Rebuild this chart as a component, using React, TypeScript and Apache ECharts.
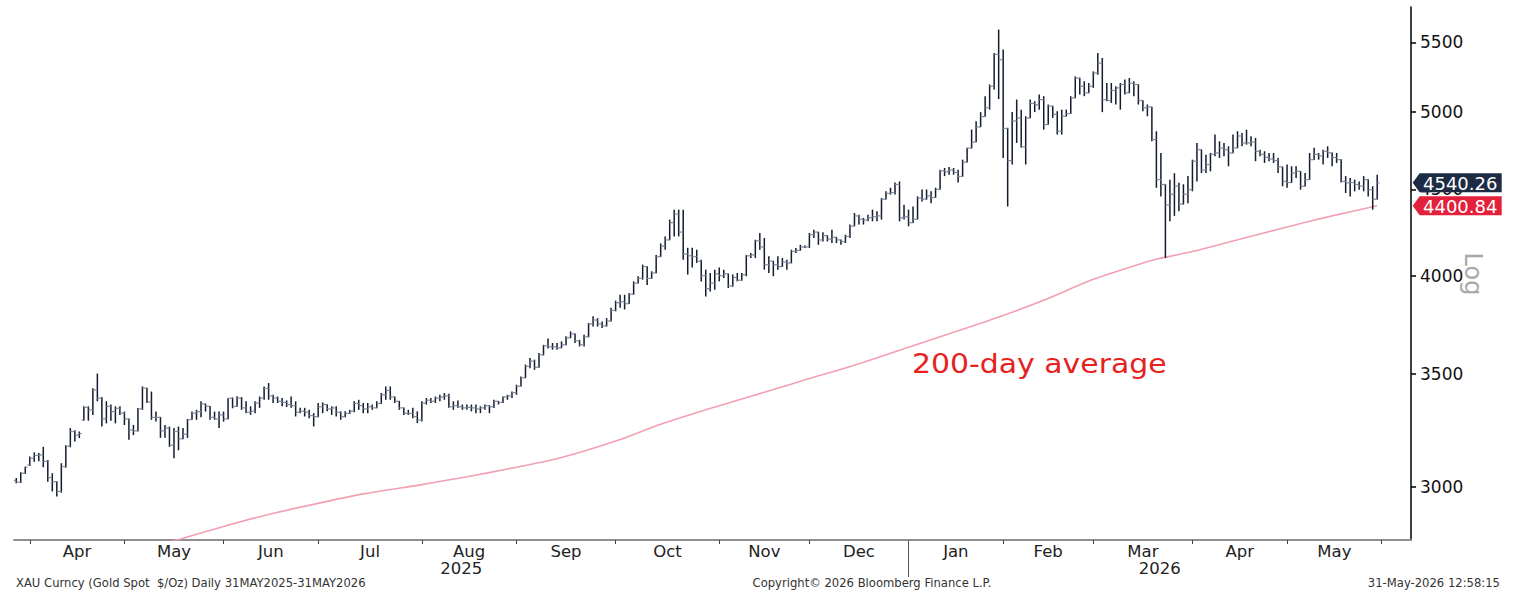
import React, { useEffect, useRef } from 'react';
import * as echarts from 'echarts';

// ---------- calendar ----------
const FIRST_DAY = '2025-03-27';
const LAST_DAY = '2026-05-29';
const HOLIDAYS = ['2025-04-18', '2025-12-25', '2026-01-01', '2026-04-03'];
const PAD_DAYS = ['2026-06-01', '2026-06-02', '2026-06-03', '2026-06-04', '2026-06-05', '2026-06-08', '2026-06-09'];
const MONTHS = ['Jan', 'Feb', 'Mar', 'Apr', 'May', 'Jun', 'Jul', 'Aug', 'Sep', 'Oct', 'Nov', 'Dec'];

// ---------- axis ----------
const Y_TICKS = [3000, 3500, 4000, 4500, 5000, 5500];
const Y_MIN = 2789;
const Y_MAX = 5771;

// ---------- OHLC data [open, high, low, close] ----------
const mar25 = [
  [3025, 3035, 3013, 3018], [3018, 3059, 3015, 3055], [3055, 3083, 3052, 3080],
];
const apr25 = [
  [3090, 3125, 3085, 3118], [3118, 3143, 3103, 3130], [3130, 3140, 3105, 3132], [3132, 3167, 3080, 3105],
  [3105, 3111, 3020, 3037], [3037, 3055, 2980, 3020], [3020, 3022, 2960, 2980], [2980, 3097, 2975, 3083],
  [3083, 3174, 3078, 3170], [3170, 3249, 3165, 3234], [3234, 3240, 3190, 3218], [3218, 3234, 3205, 3225],
  [3285, 3347, 3282, 3342], [3342, 3347, 3282, 3331], [3331, 3431, 3308, 3423], [3423, 3500, 3370, 3384],
  [3384, 3390, 3256, 3290], [3290, 3370, 3270, 3347], [3347, 3355, 3282, 3323], [3323, 3347, 3270, 3338],
  [3338, 3347, 3308, 3316],
];
const may25 = [
  [3316, 3323, 3263, 3290], [3290, 3292, 3198, 3241], [3241, 3263, 3218, 3237], [3237, 3339, 3234, 3335],
  [3335, 3439, 3331, 3431], [3431, 3433, 3362, 3367], [3367, 3415, 3286, 3297], [3297, 3323, 3278, 3297],
  [3297, 3299, 3206, 3237], [3237, 3263, 3206, 3249], [3249, 3256, 3167, 3174], [3174, 3249, 3118, 3234],
  [3234, 3256, 3152, 3202], [3202, 3249, 3200, 3222], [3222, 3290, 3206, 3287], [3287, 3323, 3286, 3316],
  [3316, 3331, 3286, 3323], [3323, 3370, 3297, 3358], [3358, 3360, 3323, 3347], [3347, 3349, 3286, 3297],
  [3297, 3323, 3286, 3290], [3290, 3323, 3249, 3308],
];
const jun25 = [
  [3308, 3323, 3278, 3290], [3290, 3384, 3288, 3384], [3384, 3388, 3338, 3347], [3347, 3393, 3345, 3384],
  [3384, 3390, 3331, 3340], [3340, 3370, 3316, 3320], [3320, 3347, 3308, 3325], [3325, 3370, 3316, 3362],
  [3362, 3392, 3340, 3385], [3385, 3439, 3377, 3430], [3430, 3455, 3377, 3395], [3395, 3400, 3362, 3385],
  [3385, 3392, 3362, 3370], [3370, 3385, 3347, 3365], [3365, 3374, 3344, 3355], [3355, 3392, 3340, 3350],
  [3350, 3370, 3301, 3320], [3320, 3340, 3316, 3325], [3325, 3340, 3301, 3320], [3320, 3331, 3293, 3305],
  [3305, 3316, 3256, 3300],
];
const jul25 = [
  [3300, 3362, 3298, 3345], [3345, 3365, 3316, 3355], [3355, 3357, 3324, 3335], [3335, 3347, 3308, 3340],
  [3340, 3347, 3301, 3320], [3320, 3324, 3286, 3300], [3300, 3324, 3298, 3315], [3315, 3331, 3312, 3325],
  [3325, 3370, 3320, 3360], [3360, 3377, 3331, 3350], [3350, 3362, 3316, 3335], [3335, 3362, 3316, 3345],
  [3345, 3355, 3331, 3340], [3340, 3370, 3338, 3360], [3360, 3408, 3358, 3400], [3400, 3439, 3377, 3420],
  [3420, 3439, 3377, 3390], [3390, 3392, 3362, 3370], [3370, 3372, 3331, 3340], [3340, 3342, 3308, 3315],
  [3315, 3331, 3308, 3315], [3315, 3340, 3293, 3300], [3300, 3324, 3271, 3285],
];
const aug25 = [
  [3285, 3370, 3278, 3362], [3362, 3385, 3355, 3375], [3375, 3385, 3362, 3370], [3370, 3392, 3362, 3385],
  [3385, 3400, 3370, 3390], [3390, 3408, 3377, 3395], [3395, 3405, 3340, 3345], [3345, 3370, 3331, 3350],
  [3350, 3374, 3340, 3345], [3345, 3355, 3331, 3340], [3340, 3355, 3331, 3342], [3342, 3355, 3324, 3340],
  [3340, 3355, 3316, 3335], [3335, 3347, 3316, 3340], [3340, 3355, 3331, 3350], [3350, 3352, 3316, 3345],
  [3345, 3377, 3339, 3370], [3370, 3372, 3355, 3365], [3365, 3392, 3362, 3390], [3390, 3400, 3377, 3395],
  [3395, 3415, 3385, 3410],
];
const sep25 = [
  [3410, 3447, 3400, 3440], [3440, 3486, 3439, 3480], [3480, 3543, 3478, 3535], [3535, 3575, 3526, 3560],
  [3560, 3567, 3518, 3530], [3530, 3600, 3528, 3590], [3590, 3640, 3588, 3635], [3635, 3672, 3622, 3630],
  [3630, 3649, 3616, 3630], [3630, 3649, 3616, 3625], [3625, 3657, 3623, 3640], [3640, 3683, 3638, 3675],
  [3675, 3707, 3673, 3695], [3695, 3697, 3649, 3660], [3660, 3665, 3632, 3640], [3640, 3690, 3632, 3680],
  [3680, 3750, 3678, 3745], [3745, 3784, 3732, 3765], [3765, 3775, 3732, 3745], [3745, 3758, 3725, 3735],
  [3735, 3775, 3732, 3760], [3760, 3829, 3758, 3815],
];
const oct25 = [
  [3815, 3866, 3810, 3855], [3855, 3897, 3829, 3860], [3860, 3897, 3820, 3850], [3850, 3907, 3848, 3900],
  [3900, 3969, 3897, 3960], [3960, 3997, 3958, 3985], [3985, 4061, 3978, 4050], [4050, 4052, 3950, 3985],
  [3985, 4024, 3983, 4015], [4015, 4115, 4013, 4105], [4105, 4180, 4103, 4165], [4165, 4220, 4144, 4200],
  [4200, 4318, 4198, 4300], [4300, 4377, 4220, 4350], [4350, 4377, 4220, 4245], [4245, 4377, 4088, 4120],
  [4120, 4155, 4006, 4110], [4110, 4155, 4045, 4105], [4105, 4144, 4070, 4080], [4080, 4088, 3969, 4000],
  [4000, 4033, 3888, 3930], [3930, 4015, 3915, 3960], [3960, 4033, 3924, 4010],
];
const nov25 = [
  [4010, 4045, 3969, 4000], [4000, 4033, 3988, 4010], [4010, 4012, 3933, 3945], [3945, 4006, 3940, 3990],
  [3990, 4015, 3969, 3975], [3975, 4015, 3973, 4005], [4005, 4115, 3997, 4110], [4110, 4125, 4098, 4115],
  [4115, 4201, 4098, 4195], [4195, 4240, 4144, 4160], [4160, 4211, 4033, 4060], [4060, 4107, 4015, 4080],
  [4080, 4082, 3997, 4060], [4060, 4107, 4033, 4050], [4050, 4098, 4048, 4075], [4075, 4088, 4033, 4070],
  [4070, 4144, 4068, 4135], [4135, 4154, 4125, 4140], [4140, 4172, 4138, 4160], [4160, 4168, 4154, 4160],
];
const dec25 = [
  [4160, 4240, 4154, 4230], [4230, 4259, 4211, 4245], [4245, 4247, 4172, 4200], [4200, 4244, 4191, 4225],
  [4225, 4227, 4191, 4205], [4205, 4259, 4182, 4215], [4215, 4217, 4182, 4200], [4200, 4202, 4172, 4190],
  [4190, 4230, 4182, 4220], [4220, 4289, 4211, 4280], [4280, 4357, 4279, 4340], [4340, 4347, 4289, 4320],
  [4320, 4328, 4289, 4315], [4315, 4347, 4308, 4330], [4330, 4377, 4308, 4335], [4335, 4367, 4308, 4340],
  [4340, 4447, 4318, 4440], [4440, 4488, 4438, 4475], [4475, 4510, 4468, 4480], [4480, 4542, 4468, 4530],
  [4530, 4549, 4308, 4328], [4328, 4406, 4318, 4335],
];
const jan26 = [
  [4335, 4377, 4279, 4300], [4300, 4396, 4298, 4320], [4320, 4457, 4318, 4447], [4447, 4499, 4426, 4440],
  [4440, 4499, 4437, 4460], [4460, 4488, 4416, 4450], [4450, 4510, 4448, 4500], [4500, 4622, 4498, 4615],
  [4615, 4633, 4582, 4610], [4610, 4640, 4591, 4620], [4620, 4633, 4591, 4605], [4605, 4622, 4542, 4580],
  [4580, 4686, 4578, 4670], [4670, 4762, 4668, 4760], [4760, 4882, 4758, 4800], [4800, 4938, 4798, 4900],
  [4900, 5000, 4898, 4970], [4970, 5110, 4968, 5030], [5030, 5192, 5017, 5180], [5180, 5420, 5156, 5410],
  [5410, 5596, 5090, 5370],
];
const feb26 = [
  [5370, 5445, 4697, 4890], [4890, 4894, 4396, 4680], [4680, 5000, 4655, 4940], [4940, 5086, 4794, 4960],
  [4960, 5017, 4762, 4770], [4770, 4972, 4655, 4960], [4960, 5086, 4958, 5060], [5060, 5075, 5000, 5050],
  [5050, 5121, 5017, 5086], [5086, 5110, 4882, 4916], [4916, 5052, 4914, 5041], [5041, 5043, 4961, 4985],
  [4985, 5006, 4849, 4871], [4871, 5017, 4849, 4972], [4972, 5017, 4970, 4990], [4990, 5110, 4988, 5098],
  [5098, 5250, 5096, 5238], [5238, 5240, 5121, 5180], [5180, 5215, 5110, 5133], [5133, 5203, 5131, 5180],
];
const mar26 = [
  [5180, 5286, 5168, 5274], [5274, 5420, 5262, 5346], [5346, 5383, 5000, 5086], [5086, 5203, 5075, 5080],
  [5080, 5203, 5063, 5150], [5150, 5180, 5052, 5168], [5168, 5203, 5017, 5192], [5192, 5227, 5121, 5133],
  [5133, 5238, 5131, 5200], [5200, 5215, 5110, 5192], [5192, 5194, 5052, 5080], [5080, 5082, 5006, 5030],
  [5030, 5052, 4972, 5035], [5035, 5037, 4805, 4816], [4816, 4871, 4510, 4560], [4560, 4729, 4457, 4530],
  [4530, 4531, 4098, 4406], [4406, 4560, 4308, 4470], [4470, 4600, 4340, 4520], [4520, 4540, 4367, 4410],
  [4410, 4531, 4408, 4470], [4470, 4582, 4416, 4498],
];
const apr26 = [
  [4498, 4686, 4488, 4676], [4676, 4794, 4549, 4750], [4750, 4752, 4601, 4620], [4620, 4718, 4601, 4655],
  [4655, 4729, 4612, 4720], [4720, 4849, 4708, 4729], [4729, 4805, 4697, 4760], [4760, 4794, 4708, 4750],
  [4750, 4772, 4644, 4729], [4729, 4849, 4727, 4762], [4762, 4871, 4760, 4840], [4840, 4860, 4772, 4794],
  [4794, 4882, 4783, 4794], [4794, 4838, 4772, 4800], [4800, 4827, 4676, 4740], [4740, 4750, 4708, 4720],
  [4720, 4740, 4665, 4700], [4700, 4729, 4676, 4690], [4690, 4729, 4665, 4680], [4680, 4697, 4601, 4640],
  [4640, 4642, 4519, 4549],
];
const may26 = [
  [4549, 4655, 4510, 4542], [4542, 4644, 4540, 4601], [4601, 4644, 4570, 4612], [4612, 4614, 4498, 4519],
  [4519, 4601, 4517, 4560], [4560, 4729, 4558, 4686], [4686, 4762, 4684, 4720], [4720, 4729, 4686, 4710],
  [4710, 4750, 4655, 4740], [4740, 4772, 4697, 4730], [4730, 4732, 4644, 4700], [4700, 4729, 4665, 4686],
  [4686, 4688, 4542, 4549], [4549, 4582, 4478, 4540], [4540, 4570, 4457, 4542], [4542, 4560, 4488, 4530],
  [4530, 4549, 4498, 4520], [4520, 4582, 4488, 4560], [4560, 4562, 4457, 4498], [4498, 4519, 4377, 4440],
  [4440, 4591, 4438, 4540.26],
];

// ---------- 200-day moving average ----------
const maDates = [
  '2025-05-01', '2025-05-15', '2025-06-02', '2025-06-16', '2025-07-01', '2025-07-15', '2025-08-01',
  '2025-08-15', '2025-09-01', '2025-09-15', '2025-10-01', '2025-10-15', '2025-11-03', '2025-11-17',
  '2025-12-01', '2025-12-15', '2026-01-02', '2026-01-15', '2026-02-02', '2026-02-13', '2026-03-02',
  '2026-03-16', '2026-03-20', '2026-04-01', '2026-04-15', '2026-05-01', '2026-05-15', '2026-05-29',
];
const maValues = [
  2740, 2781, 2841, 2888, 2932, 2970, 3008,
  3040, 3080, 3121, 3192, 3266, 3350, 3412,
  3476, 3540, 3628, 3695, 3789, 3868, 3980,
  4062, 4091, 4134, 4194, 4275, 4340, 4400.84,
];

function tradingDays(from: string, to: string, skip: string[]): string[] {
  const out: string[] = [];
  const d = new Date(from + 'T00:00:00Z');
  const end = new Date(to + 'T00:00:00Z');
  while (d.getTime() <= end.getTime()) {
    const wd = d.getUTCDay();
    const s = d.toISOString().slice(0, 10);
    if (wd !== 0 && wd !== 6 && skip.indexOf(s) < 0) out.push(s);
    d.setUTCDate(d.getUTCDate() + 1);
  }
  return out;
}

const FONT = '"DejaVu Sans", Verdana, sans-serif';

export default function App() {
  const ref = useRef<HTMLDivElement>(null);

  useEffect(() => {
    if (!ref.current) return;
    const chart = echarts.init(ref.current, null, { renderer: 'svg' });

    const ohlc = [
      ...mar25, ...apr25, ...may25, ...jun25, ...jul25, ...aug25, ...sep25, ...oct25,
      ...nov25, ...dec25, ...jan26, ...feb26, ...mar26, ...apr26, ...may26,
    ];
    const days = tradingDays(FIRST_DAY, LAST_DAY, HOLIDAYS);
    const cats = [...days, ...PAD_DAYS];
    const N = cats.length;

    // month starts
    const starts: number[] = [];
    for (let i = 0; i < N; i++) {
      if (i === 0 || cats[i].slice(0, 7) !== cats[i - 1].slice(0, 7)) starts.push(i);
    }
    const tickSet = new Set(starts.filter((s) => s > 0));
    const monthCenters: number[] = [];
    const monthNames: string[] = [];
    for (let k = 1; k < starts.length - 1; k++) {
      monthCenters.push((starts[k] + starts[k + 1]) / 2);
      monthNames.push(MONTHS[parseInt(cats[starts[k]].slice(5, 7), 10) - 1]);
    }
    // year boundary
    let yearStart = 0;
    for (let i = 1; i < N; i++) {
      if (cats[i].slice(0, 4) !== cats[i - 1].slice(0, 4)) { yearStart = i; break; }
    }
    const yearCenters = [(-0.5 + yearStart) / 2, (yearStart + N - 0.5) / 2];
    const yearNames = [cats[0].slice(0, 4), cats[yearStart].slice(0, 4)];

    const nearestLabel = (v: number, centers: number[], names: string[]) => {
      let best = 0;
      for (let i = 1; i < centers.length; i++) {
        if (Math.abs(centers[i] - v) < Math.abs(centers[best] - v)) best = i;
      }
      return names[best];
    };

    const ln = Math.log;
    const ohlcData = ohlc.map((d, i) => [i, ln(d[0]), ln(d[1]), ln(d[2]), ln(d[3])]);
    const maData = maDates.map((d, k) => [cats.indexOf(d), ln(maValues[k])]);
    const lastIdx = ohlc.length - 1;
    const lastClose = ohlc[lastIdx][3];
    const lastMa = maValues[maValues.length - 1];

    const option: any = {
      animation: false,
      backgroundColor: '#ffffff',
      grid: { left: 14, right: 116, top: 7, bottom: 60, containLabel: false, outerBoundsMode: 'none' },
      xAxis: [
        {
          type: 'category',
          data: cats,
          boundaryGap: true,
          position: 'bottom',
          axisLine: { show: true, onZero: false, lineStyle: { color: '#8f8f8f', width: 2 } },
          axisTick: {
            show: true,
            alignWithLabel: true,
            interval: (idx: number) => tickSet.has(idx),
            length: 4,
            lineStyle: { color: '#444', width: 1 },
          },
          axisLabel: { show: false },
          splitLine: { show: false },
        },
        {
          type: 'value',
          min: -0.5,
          max: N - 0.5,
          position: 'bottom',
          axisLine: { show: false, onZero: false },
          axisTick: { show: false },
          splitLine: { show: false },
          axisLabel: {
            show: true,
            customValues: monthCenters,
            formatter: (v: number) => nearestLabel(v, monthCenters, monthNames),
            margin: 3,
            fontSize: 16.5,
            lineHeight: 16,
            fontFamily: FONT,
            color: '#222',
          },
        },
        {
          type: 'value',
          min: -0.5,
          max: N - 0.5,
          position: 'bottom',
          axisLine: { show: false, onZero: false },
          axisTick: {
            show: true,
            customValues: [yearStart],
            length: 37,
            lineStyle: { color: '#555', width: 1 },
          },
          splitLine: { show: false },
          axisLabel: {
            show: true,
            customValues: yearCenters,
            formatter: (v: number) => nearestLabel(v, yearCenters, yearNames),
            margin: 20,
            fontSize: 16.5,
            lineHeight: 16,
            fontFamily: FONT,
            color: '#222',
          },
        },
      ],
      yAxis: {
        type: 'value',
        position: 'right',
        min: ln(Y_MIN),
        max: ln(Y_MAX),
        axisLine: { show: true, onZero: false, lineStyle: { color: '#000', width: 1.5 } },
        axisTick: {
          show: true,
          customValues: Y_TICKS.map((t) => ln(t)),
          length: 5,
          lineStyle: { color: '#000', width: 1.5 },
        },
        axisLabel: {
          show: true,
          customValues: Y_TICKS.map((t) => ln(t)),
          formatter: (v: number) => String(Math.round(Math.exp(v))),
          margin: 9,
          fontSize: 17,
          lineHeight: 16,
          fontFamily: FONT,
          color: '#111',
        },
        splitLine: { show: false },
      },
      series: [
        {
          type: 'line',
          name: '200-day average',
          data: maData,
          symbol: 'none',
          smooth: 0.3,
          silent: true,
          lineStyle: { color: '#f2a0b2', width: 1.6 },
          z: 2,
        },
        {
          type: 'custom',
          name: 'XAU',
          data: ohlcData,
          encode: { x: 0, y: [1, 2, 3, 4] },
          silent: true,
          z: 3,
          renderItem: (params: any, api: any) => {
            const x = api.value(0);
            const o = api.coord([x, api.value(1)]);
            const h = api.coord([x, api.value(2)]);
            const l = api.coord([x, api.value(3)]);
            const c = api.coord([x, api.value(4)]);
            const w = 2.3;
            const cx = h[0];
            return {
              type: 'group',
              children: [
                { type: 'line', shape: { x1: cx, y1: h[1], x2: cx, y2: l[1] }, style: { stroke: '#131b2d', lineWidth: 1.5 } },
                { type: 'line', shape: { x1: cx - w, y1: o[1], x2: cx, y2: o[1] }, style: { stroke: '#7c879a', lineWidth: 1.2 } },
                { type: 'line', shape: { x1: cx, y1: c[1], x2: cx + w, y2: c[1] }, style: { stroke: '#7c879a', lineWidth: 1.2 } },
              ],
            };
          },
        },
        {
          type: 'scatter',
          name: 'tags',
          silent: true,
          clip: false,
          z: 10,
          symbol: 'path://M0,10L7,0L90,0L90,20L7,20Z',
          symbolSize: [89, 19],
          symbolOffset: [80, 0],
          symbolKeepAspect: false,
          itemStyle: { opacity: 1 },
          label: {
            show: true,
            position: 'inside',
            color: '#ffffff',
            fontSize: 18,
            lineHeight: 16,
            fontFamily: FONT,
            offset: [3, 1],
          },
          data: [
            { value: [lastIdx, ln(lastClose)], itemStyle: { color: '#1e2b45', opacity: 1 }, label: { formatter: lastClose.toFixed(2) } },
            { value: [lastIdx, ln(lastMa)], itemStyle: { color: '#e3213c', opacity: 1 }, label: { formatter: lastMa.toFixed(2) } },
          ],
        },
      ],
      graphic: [
        {
          type: 'text',
          x: 912,
          y: 351,
          scaleX: 1.15,
          style: { text: '200-day average', fill: '#e6221e', fontSize: 26, fontFamily: FONT, align: 'left', verticalAlign: 'top' },
        },
        {
          type: 'text',
          x: 1473,
          y: 274,
          rotation: -Math.PI / 2,
          style: { text: 'Log', fill: '#a8a8a8', fontSize: 24, fontFamily: FONT, align: 'center', verticalAlign: 'middle' },
        },
        {
          type: 'text',
          x: 16,
          y: 583,
          style: { text: 'XAU Curncy (Gold Spot  $/Oz) Daily 31MAY2025-31MAY2026', fill: '#333', fontSize: 11.6, fontFamily: FONT, align: 'left', verticalAlign: 'middle' },
        },
        {
          type: 'text',
          x: 872,
          y: 583,
          style: { text: 'Copyright© 2026 Bloomberg Finance L.P.', fill: '#333', fontSize: 11.6, fontFamily: FONT, align: 'center', verticalAlign: 'middle' },
        },
        {
          type: 'text',
          x: 1500,
          y: 583,
          style: { text: '31-May-2026 12:58:15', fill: '#333', fontSize: 11.6, fontFamily: FONT, align: 'right', verticalAlign: 'middle' },
        },
      ],
    };

    chart.setOption(option);
    return () => chart.dispose();
  }, []);

  return (
    <div
      ref={ref}
      style={{ position: 'absolute', left: 0, top: 0, width: 1527, height: 600, background: '#fff' }}
    />
  );
}
